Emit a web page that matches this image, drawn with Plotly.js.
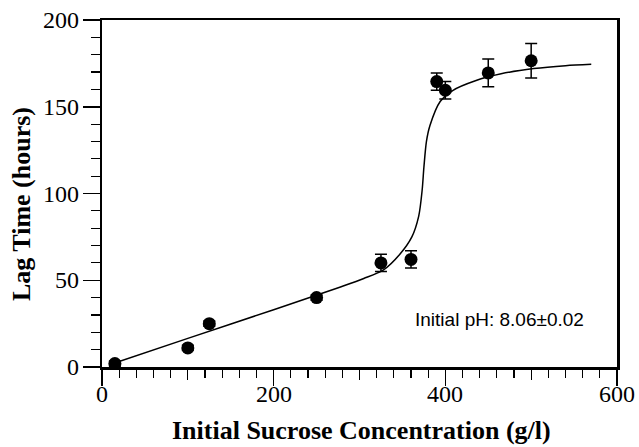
<!DOCTYPE html>
<html>
<head>
<meta charset="utf-8">
<script src="https://cdn.plot.ly/plotly-3.0.1.min.js"></script>
<style>
html,body{margin:0;padding:0;background:#fff}
#chart{width:639px;height:447px}
</style>
</head>
<body>
<div id="chart"></div>
<script>
// Measured points
var sucrose = [15, 100, 125, 250, 325, 360, 390, 400, 450, 500];
var lagTime = [2, 11, 25, 40, 60, 62, 164.5, 159.5, 169.5, 176.5];
var lagErr  = [1.5, 1.5, 1.5, 1.5, 5, 5, 5, 5, 8, 10];

// Fitted curve
var fitX = [13, 100, 200, 277, 305, 328, 347, 361, 369, 373, 375, 378, 382, 394, 409, 435, 465, 503, 540, 570];
var fitY = [2, 16.5, 33, 46, 51, 56, 65, 75, 87, 102, 115, 130, 139, 153, 159.5, 165, 169, 172, 173.7, 174.5];

var xTickVals = [0, 200, 400, 600];
var xTickText = ['0', '200', '400', '600'];
var yTickVals = [0, 50, 100, 150, 200];
var yTickText = ['0', '50', '100', '150', '200'];

var xTitle = 'Initial Sucrose Concentration (g/l)';
var yTitle = 'Lag Time (hours)';
var annotationText = 'Initial pH: 8.06\u00b10.02';

var SERIF = 'Liberation Serif';

var fit = {
  x: fitX, y: fitY, type: 'scatter', mode: 'lines',
  line: {color: '#000', width: 1.5, shape: 'spline', smoothing: 0.8},
  hoverinfo: 'skip', showlegend: false
};
var pts = {
  x: sucrose, y: lagTime, type: 'scatter', mode: 'markers',
  marker: {color: '#000', size: 13, symbol: 'circle'},
  error_y: {type: 'data', array: lagErr, visible: true, color: '#000', thickness: 1.5, width: 6},
  showlegend: false
};
var dummy = {x: [0], y: [0], xaxis: 'x2', type: 'scatter', mode: 'markers', marker: {opacity: 0}, hoverinfo: 'skip', showlegend: false};

var annotations = [];
xTickVals.forEach(function (v, i) {
  annotations.push({
    text: xTickText[i], xref: 'x', yref: 'paper', x: v, y: -0.078,
    xanchor: 'center', yanchor: 'middle', showarrow: false,
    font: {family: SERIF, size: 24, color: '#000'}
  });
});
yTickVals.forEach(function (v, i) {
  annotations.push({
    text: yTickText[i], xref: 'paper', yref: 'y', x: -0.04, y: v,
    xanchor: 'right', yanchor: 'middle', showarrow: false,
    font: {family: SERIF, size: 24, color: '#000'}
  });
});
annotations.push({
  text: xTitle, xref: 'paper', yref: 'paper', x: 0.504, y: -0.182,
  xanchor: 'center', yanchor: 'middle', showarrow: false,
  font: {family: SERIF, size: 26, color: '#000', weight: 'bold'}
});
annotations.push({
  text: yTitle, xref: 'paper', yref: 'paper', x: -0.155, y: 0.47, textangle: -90,
  xanchor: 'center', yanchor: 'middle', showarrow: false,
  font: {family: SERIF, size: 26, color: '#000', weight: 'bold'}
});
annotations.push({
  text: annotationText, xref: 'paper', yref: 'paper', x: 0.94, y: 0.138,
  xanchor: 'right', yanchor: 'middle', showarrow: false,
  font: {family: 'Liberation Sans', size: 19, color: '#000'}
});

var layout = {
  width: 639, height: 447,
  margin: {l: 102, r: 22, t: 20, b: 80},
  paper_bgcolor: '#fff', plot_bgcolor: '#fff',
  font: {family: SERIF, size: 24, color: '#000'},
  showlegend: false,
  xaxis: {
    range: [0, 600], tickmode: 'array', tickvals: xTickVals,
    ticks: 'outside', ticklen: 16, tickwidth: 1.5, tickcolor: '#000',
    minor: {dtick: 20, tick0: 0, ticks: 'outside', ticklen: 8, tickwidth: 1.2, tickcolor: '#000', showgrid: false},
    showline: true, linewidth: 2.5, linecolor: '#000', mirror: true,
    showgrid: false, zeroline: false, showticklabels: false
  },
  xaxis2: {
    overlaying: 'x', side: 'bottom', range: [0, 600], anchor: 'y',
    tickmode: 'array', tickvals: [100, 300, 500],
    ticks: 'outside', ticklen: 12, tickwidth: 1.2, tickcolor: '#000',
    showline: false, showgrid: false, zeroline: false, showticklabels: false
  },
  yaxis: {
    range: [0, 200], tickmode: 'array', tickvals: yTickVals,
    ticks: 'outside', ticklen: 17, tickwidth: 1.5, tickcolor: '#000',
    minor: {dtick: 10, tick0: 0, ticks: 'outside', ticklen: 9, tickwidth: 1.2, tickcolor: '#000', showgrid: false},
    showline: true, linewidth: 2.5, linecolor: '#000', mirror: true,
    showgrid: false, zeroline: false, showticklabels: false
  },
  annotations: annotations
};

Plotly.newPlot('chart', [fit, pts, dummy], layout, {displayModeBar: false, staticPlot: true});
</script>
</body>
</html>
